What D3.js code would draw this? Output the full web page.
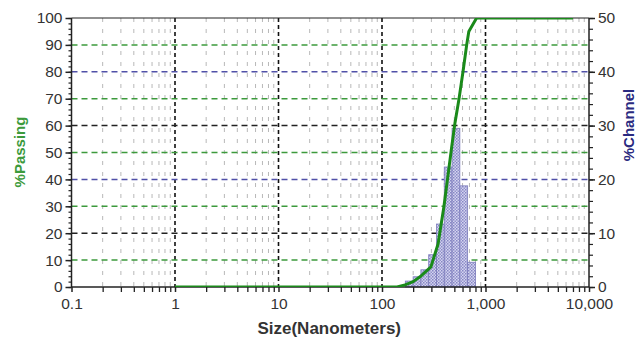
<!DOCTYPE html>
<html><head><meta charset="utf-8">
<script src="https://cdn.jsdelivr.net/npm/d3@7"></script>
<style>html,body{margin:0;padding:0;background:#fff;}svg{display:block;}</style>
</head><body>
<svg id="c" width="637" height="337"></svg>
<script>
// ---- data ----
const xTickValues = [0.1, 1, 10, 100, 1000, 10000];
const xTickLabels = ["0.1", "1", "10", "100", "1,000", "10,000"];
const leftTicks = [0, 10, 20, 30, 40, 50, 60, 70, 80, 90, 100];
const rightTicks = [0, 10, 20, 30, 40, 50];
// histogram bins (nm) and % channel
const binEdges = [168, 199.8, 237.6, 282.5, 336, 399.6, 475.2, 565.1, 672, 799.2];
const channelPct = [1.1, 1.9, 3.2, 6.0, 11.7, 22.3, 29.5, 18.8, 4.6];
// cumulative % passing curve
const curveSize = [1, 140, 167, 200, 233, 297, 348, 397, 471, 507, 555, 606, 658, 690, 820, 7000];
const curvePassing = [0, 0, 0.8, 2.0, 3.8, 7.5, 16, 30, 52, 61, 70, 80, 90, 95, 100, 100];
// horizontal grid lines (left-axis values) and their colours
const hGridValues = [10, 20, 30, 40, 50, 60, 70, 80, 90];
const hGridColors = ["green", "black", "green", "navy", "green", "black", "green", "navy", "green"];

// ---- setup ----
const svg = d3.select("#c");
const L = 71.5, R = 589, T = 18, B = 287;
const x = d3.scaleLog().domain([0.1, 10000]).range([L, R]);
const yL = d3.scaleLinear().domain([0, 100]).range([B, T]);
const yR = d3.scaleLinear().domain([0, 50]).range([B, T]);
const colorMap = {green: "#3c9a3c", black: "#222", navy: "#5050a8"};
const FONT = "Liberation Sans, Arial, sans-serif";

// pattern for bars
const defs = svg.append("defs");
const pat = defs.append("pattern").attr("id", "hatch").attr("patternUnits", "userSpaceOnUse")
  .attr("width", 3).attr("height", 3);
pat.append("rect").attr("width", 3).attr("height", 3).attr("fill", "#d4d4f0");
pat.append("rect").attr("width", 1.5).attr("height", 1.5).attr("fill", "#8686c4");
pat.append("rect").attr("x", 1.5).attr("y", 1.5).attr("width", 1.5).attr("height", 1.5).attr("fill", "#9494cc");
defs.append("clipPath").attr("id", "plotclip").append("rect")
  .attr("x", L).attr("y", T).attr("width", R - L).attr("height", B - T);

// minor tick values
const minorVals = [];
for (let d = 0.1; d < 10000; d *= 10) for (let k = 2; k <= 9; k++) minorVals.push(+(d * k).toPrecision(3));
const majorInner = xTickValues.slice(1, -1);

// vertical minor grid
svg.append("g").selectAll("line").data(minorVals).join("line")
  .attr("x1", d => x(d)).attr("x2", d => x(d)).attr("y1", T).attr("y2", B)
  .attr("stroke", "#b8b8b8").attr("stroke-width", 1).attr("stroke-dasharray", "4,7");
// vertical major grid
svg.append("g").selectAll("line").data(majorInner).join("line")
  .attr("x1", d => x(d)).attr("x2", d => x(d)).attr("y1", T).attr("y2", B)
  .attr("stroke", "#111").attr("stroke-width", 1.6).attr("stroke-dasharray", "4,3");
// horizontal grid
svg.append("g").selectAll("line").data(hGridValues).join("line")
  .attr("x1", L).attr("x2", R).attr("y1", d => yL(d)).attr("y2", d => yL(d))
  .attr("stroke", (d, i) => colorMap[hGridColors[i]]).attr("stroke-width", 1.5).attr("stroke-dasharray", "6,4");

// bars
svg.append("g").selectAll("rect").data(channelPct).join("rect")
  .attr("x", (d, i) => x(binEdges[i]))
  .attr("width", (d, i) => x(binEdges[i + 1]) - x(binEdges[i]))
  .attr("y", d => yR(d)).attr("height", d => B - yR(d))
  .attr("fill", "url(#hatch)").attr("stroke", "#7c7cbc").attr("stroke-width", 0.8);

// frame / axes lines
const axisCol = "#222";
svg.append("line").attr("x1", L).attr("x2", R).attr("y1", T).attr("y2", T).attr("stroke", axisCol).attr("stroke-width", 1.2);
svg.append("line").attr("x1", L).attr("x2", R).attr("y1", B).attr("y2", B).attr("stroke", axisCol).attr("stroke-width", 1.5);
svg.append("line").attr("x1", L).attr("x2", L).attr("y1", T).attr("y2", B).attr("stroke", axisCol).attr("stroke-width", 1.5);
svg.append("line").attr("x1", R).attr("x2", R).attr("y1", T).attr("y2", B).attr("stroke", axisCol).attr("stroke-width", 1.5);

// curve
const pts = curveSize.map((s, i) => [s, curvePassing[i]]);
svg.append("path").datum(pts)
  .attr("clip-path", "url(#plotclip)")
  .attr("d", d3.line().x(d => x(d[0])).y(d => yL(d[1])))
  .attr("fill", "none").attr("stroke", "#1a8a1a").attr("stroke-width", 3).attr("stroke-linejoin", "round");

// bottom axis
const xAxis = d3.axisBottom(x).tickValues(xTickValues).tickFormat((d, i) => xTickLabels[i]).tickSize(5).tickPadding(6);
const gx = svg.append("g").attr("transform", `translate(0,${B})`).call(xAxis);
gx.select(".domain").remove();
gx.selectAll(".tick line").attr("stroke", axisCol).attr("stroke-width", 1.5);
gx.selectAll("text").attr("font-family", FONT).attr("font-size", 15.5).attr("fill", "#333");
const gxm = svg.append("g").attr("transform", `translate(0,${B})`)
  .call(d3.axisBottom(x).tickValues(minorVals).tickFormat("").tickSize(5));
gxm.select(".domain").remove();
gxm.selectAll(".tick line").attr("stroke", axisCol).attr("stroke-width", 1.3);

// left axis
const gl = svg.append("g").attr("transform", `translate(${L},0)`)
  .call(d3.axisLeft(yL).tickValues(leftTicks).tickSize(6).tickPadding(3));
gl.select(".domain").remove();
gl.selectAll(".tick line").attr("stroke", axisCol).attr("stroke-width", 1.5);
gl.selectAll("text").attr("font-family", FONT).attr("font-size", 15.5).attr("fill", "#333");
const gll = svg.append("g").attr("transform", `translate(${L},0)`)
  .call(d3.axisLeft(yL).ticks(50).tickFormat("").tickSize(3));
gll.select(".domain").remove();
gll.selectAll(".tick line").attr("stroke", axisCol).attr("stroke-width", 1.2);

// right axis
const gr = svg.append("g").attr("transform", `translate(${R},0)`)
  .call(d3.axisRight(yR).tickValues(rightTicks).tickSize(6).tickPadding(3));
gr.select(".domain").remove();
gr.selectAll(".tick line").attr("stroke", axisCol).attr("stroke-width", 1.5);
gr.selectAll("text").attr("font-family", FONT).attr("font-size", 15.5).attr("fill", "#333");
const grm = svg.append("g").attr("transform", `translate(${R},0)`)
  .call(d3.axisRight(yR).ticks(20).tickFormat("").tickSize(4));
grm.select(".domain").remove();
grm.selectAll(".tick line").attr("stroke", axisCol).attr("stroke-width", 1.2);

// titles
svg.append("text").attr("x", (L + R) / 2 - 1).attr("y", 334).attr("text-anchor", "middle")
  .attr("font-family", FONT).attr("font-weight", "bold").attr("font-size", 17)
  .attr("fill", "#333").text("Size(Nanometers)");
svg.append("text").attr("transform", "translate(25,152) rotate(-90)").attr("text-anchor", "middle")
  .attr("font-family", FONT).attr("font-weight", "bold").attr("font-size", 15)
  .attr("fill", "#3c9a3c").text("%Passing");
svg.append("text").attr("transform", "translate(634,125) rotate(-90)").attr("text-anchor", "middle")
  .attr("font-family", FONT).attr("font-weight", "bold").attr("font-size", 15)
  .attr("fill", "#2a2a80").text("%Channel");
</script>
</body></html>
